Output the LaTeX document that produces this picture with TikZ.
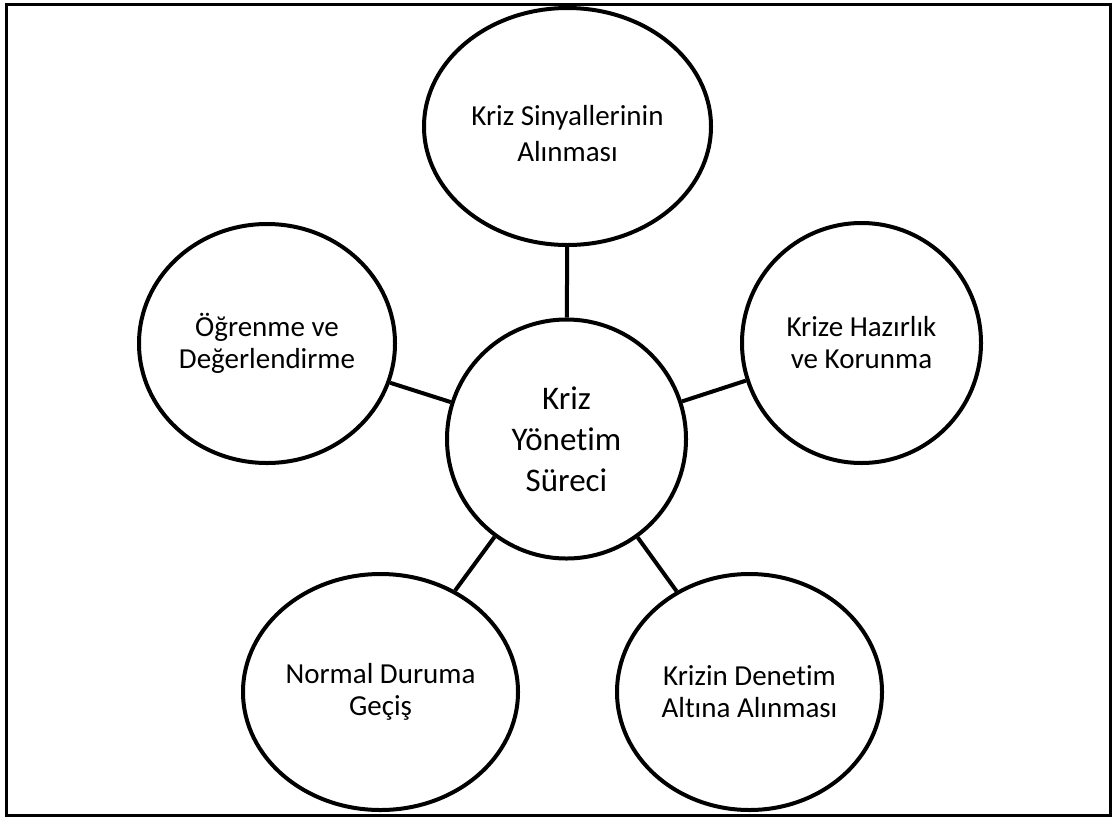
\documentclass[tikz,border=0pt]{standalone}
\usepackage{fontspec}
\setmainfont{Carlito}[Ligatures=NoCommon]
\usetikzlibrary{positioning, shapes.geometric}
\tikzset{
bubble/.style={draw, ellipse, line width=4pt, inner sep=0pt, align=center,
  font=\fontsize{29}{32}\selectfont},
hub/.style={draw, circle, line width=4pt, inner sep=0pt, align=center,
  minimum size=239pt, font=\fontsize{33}{41}\selectfont},
link/.style={line width=4pt},
}

\begin{document}
\begin{tikzpicture}[x=1pt, y=-1pt]
    \useasboundingbox (0,0) rectangle (1113,817);
    \draw[line width=2.5pt] (6.5,4.5) rectangle (1110.5,815.5); % frame

    %center
    \node[hub] (mid) at (566.5,439) {Kriz\\Yönetim\\Süreci};

    %outer bubbles
    \node[bubble, minimum width=287pt, minimum height=237pt,
      font=\fontsize{29}{36}\selectfont] (s1) at (567.5,126.5) {\rule{0pt}{34pt}Kriz Sinyallerinin\\Alınması};
    \node[bubble, minimum width=239pt, minimum height=240pt] (s2) at (861.5,343) {Krize Hazırlık\\ve Korunma};
    \node[bubble, minimum width=265pt, minimum height=236pt] (s3) at (749.5,692) {Krizin Denetim\\Altına Alınması};
    \node[bubble, minimum width=275pt, minimum height=236pt] (s4) at (380.5,692) {Normal Duruma\\Geçiş};
    \node[bubble, minimum width=256pt, minimum height=239pt] (s5) at (267,343.5) {Öğrenme ve\\Değerlendirme};

    % spokes
    \draw[link] (mid)--(s1);
    \draw[link] (mid)--(s2);
    \draw[link] (mid)--(s3);
    \draw[link] (mid)--(s4);
    \draw[link] (mid)--(s5);

\end{tikzpicture}
\end{document}
